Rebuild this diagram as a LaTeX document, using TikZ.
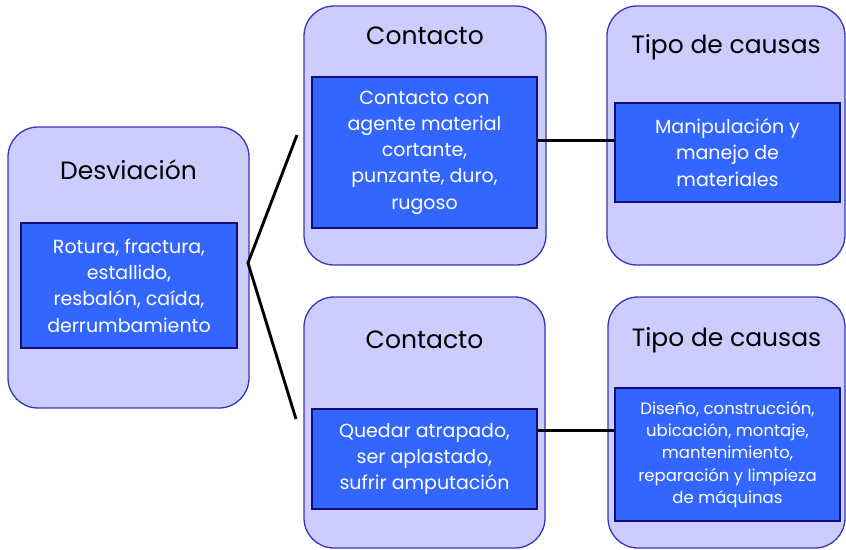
\documentclass[tikz,border=0pt]{standalone}
\usepackage{fontspec}
\setmainfont{Poppins}
\usetikzlibrary{positioning}
\definecolor{boxfill}{HTML}{CCCCFF}
\definecolor{boxline}{HTML}{3636BE}
\definecolor{itemfill}{HTML}{3366FF}
\definecolor{itemline}{HTML}{10107A}

\begin{document}
\begin{tikzpicture}[x=1pt, y=-1pt,
    group/.style={draw=boxline, fill=boxfill, line width=1.3pt, rounded corners=30pt, inner sep=0pt},
    title/.style={font=\fontsize{25}{30}\selectfont, text=black},
    item/.style={draw=itemline, fill=itemfill, line width=1.3pt, text=white, align=center, inner sep=0pt,
        font=\fontsize{19}{26.3}\selectfont},
    link/.style={line width=2.9pt, black}]
    \useasboundingbox (0,0) rectangle (846,549);

    % outer boxes
    \node[group, minimum width=241pt, minimum height=281pt] (desv) at (128.5,267.5) {};
    \node[group, minimum width=242pt, minimum height=259pt] (cont1) at (425,135.5) {};
    \node[group, minimum width=238pt, minimum height=259pt] (tipo1) at (726,135.5) {};
    \node[group, minimum width=241pt, minimum height=251pt] (cont2) at (424.5,422.5) {};
    \node[group, minimum width=237pt, minimum height=251pt] (tipo2) at (726.5,422.5) {};

    % titles
    \node[title] (desvt) at (128.5,170) {Desviación};
    \node[title] (cont1t) at (425,36) {Contacto};
    \node[title] (tipo1t) at (726,47) {Tipo de causas};
    \node[title] (cont2t) at (424.5,340) {Contacto};
    \node[title] (tipo2t) at (726.5,340) {Tipo de causas};

    % contents
    \node[item, minimum width=216pt, minimum height=125pt] (desvi) at (129,285.5)
        {Rotura, fractura,\\ estallido,\\ resbalón, caída,\\ derrumbamiento};
    \node[item, minimum width=225pt, minimum height=151pt] (cont1i) at (424.5,152.5)
        {Contacto con\\ agente material\\ cortante,\\ punzante, duro,\\ rugoso};
    \node[item, minimum width=225pt, minimum height=99pt] (tipo1i) at (727.5,152.5)
        {Manipulación y\\ manejo de\\ materiales};
    \node[item, minimum width=225pt, minimum height=100pt] (cont2i) at (424.5,459)
        {Quedar atrapado,\\ ser aplastado,\\ sufrir amputación};
    \node[item, minimum width=225pt, minimum height=133pt, font=\fontsize{16.5}{22.2}\selectfont] (tipo2i) at (727.5,454.5)
        {Diseño, construcción,\\ ubicación, montaje,\\ mantenimiento,\\ reparación y limpieza\\ de máquinas};

    % connectors
    \coordinate (fork) at (248,263);
    \coordinate (up) at (297,135);
    \coordinate (down) at (296,419);
    \draw[link] (up) -- (fork) -- (down);
    \draw[link] (cont1i.east |- 0,140.5) -- (tipo1i.west |- 0,140.5);
    \draw[link] (cont2i.east |- 0,430.5) -- (tipo2i.west |- 0,430.5);
\end{tikzpicture}
\end{document}
